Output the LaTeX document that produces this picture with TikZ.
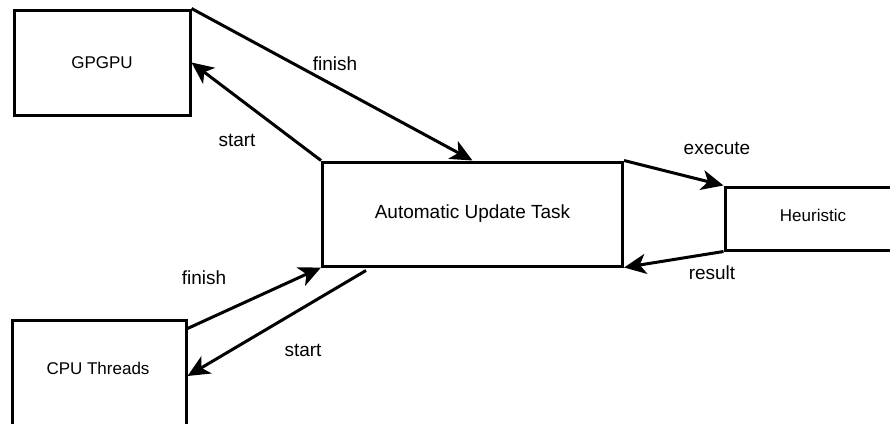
\documentclass[tikz,border=0pt]{standalone}
\usepackage{fontspec}
\setmainfont{Liberation Sans}
\usetikzlibrary{arrows.meta}

\tikzset{
  box/.style={draw,line width=3pt,inner sep=0pt,font=\fontsize{17}{20}\selectfont},
  flow/.style={line width=3pt,-{Stealth[length=22pt,width=20pt,inset=6pt]}},
  lbl/.style={inner sep=0pt,font=\fontsize{19}{22}\selectfont}
}

\begin{document}
\begin{tikzpicture}[x=1pt,y=-1pt]
      \useasboundingbox (0,0) rectangle (890,423);
      \clip (0,0) rectangle (890,423);
      \node[box,minimum width=176pt,minimum height=105pt] (gpgpu) at (102,62.5) {GPGPU};
      \node[box,minimum width=300pt,minimum height=104pt,font=\fontsize{19}{22}\selectfont] (task) at (472.5,214) {Automatic Update Task};
      \node[box,minimum width=176pt,minimum height=63pt] (heur) at (813,218.5) {};
      \node[box,draw=none] (heurtext) at (813,215) {Heuristic};
      \node[box,minimum width=174pt,minimum height=106pt] (cpu) at (99,373) {};
      \node[box,draw=none] (cputext) at (98,368) {CPU Threads};
      \draw[flow] (gpgpu.north east) -- (task.north);
      \draw[flow] (task.north west) -- (gpgpu.east);
      \draw[flow] (task.north east) -- (heur.north west);
      \draw[flow] (heur.south west) -- (task.south east);
      \draw[flow] ([yshift=-10pt]cpu.north east) -- (task.south west);
      \draw[flow] ([xshift=45pt,yshift=-3pt]task.south west) -- ([yshift=-3pt]cpu.east);
      \node[lbl] (finishg) at (335,64) {finish};
      \node[lbl] (startg) at (237,140) {start};
      \node[lbl] (exec) at (717,148) {execute};
      \node[lbl] (res) at (712,273) {result};
      \node[lbl] (finishc) at (204,278) {finish};
      \node[lbl] (startc) at (303,350) {start};
    \end{tikzpicture}
\end{document}
